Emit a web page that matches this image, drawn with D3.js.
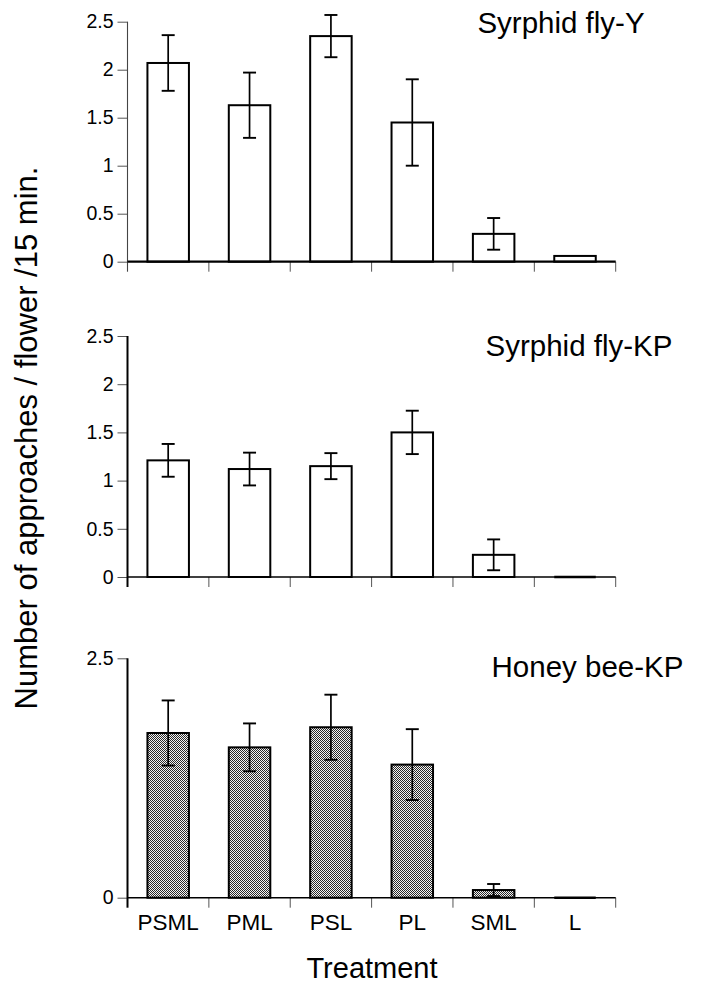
<!DOCTYPE html>
<html>
<head>
<meta charset="utf-8">
<script src="https://cdn.jsdelivr.net/npm/d3@7"></script>
<style>
  html, body { margin: 0; padding: 0; background: #fff; }
  svg { display: block; }
  svg text { font-family: "Liberation Sans", Arial, Helvetica, sans-serif; }
</style>
</head>
<body>
<svg id="chart" width="702" height="985"></svg>
<script>
// ---- data ----
const categories = ["PSML", "PML", "PSL", "PL", "SML", "L"];
const panelTitles = ["Syrphid fly-Y", "Syrphid fly-KP", "Honey bee-KP"];
const syrphidYMeans  = [2.07, 1.63, 2.35, 1.45, 0.29, 0.06];
const syrphidYErr    = [0.29, 0.34, 0.22, 0.45, 0.165, null];
const syrphidKPMeans = [1.21, 1.12, 1.15, 1.50, 0.23, 0];
const syrphidKPErr   = [0.17, 0.17, 0.135, 0.225, 0.16, null];
const honeyBeeMeans  = [1.72, 1.57, 1.78, 1.39, 0.08, 0];
const honeyBeeErr    = [0.34, 0.25, 0.34, 0.37, 0.063, null];
const fullTicks  = [0, 0.5, 1, 1.5, 2, 2.5];
const fullTickLabels = ["0", "0.5", "1", "1.5", "2", "2.5"];
const sparseTicks = [0, 2.5];
const sparseTickLabels = ["0", "2.5"];
const yLabel = "Number of approaches / flower /15 min.";
const xLabel = "Treatment";

// ---- layout ----
const FONT = "'Liberation Sans', Arial, Helvetica, sans-serif";
const svg = d3.select("#chart");
const defs = svg.append("defs");
const pat = defs.append("pattern").attr("id", "stipple")
  .attr("patternUnits", "userSpaceOnUse").attr("width", 2).attr("height", 2);
pat.append("rect").attr("width", 2).attr("height", 2).attr("fill", "#f4f4f4");
pat.append("rect").attr("x", 0).attr("y", 0).attr("width", 1).attr("height", 1).attr("fill", "#2a2a2a");
pat.append("rect").attr("x", 1).attr("y", 1).attr("width", 1).attr("height", 1).attr("fill", "#2a2a2a");

const xLeft = 127.5, xRight = 615.7;
const x = d3.scaleBand().domain(categories).range([xLeft, xRight])
  .paddingInner(0.49).paddingOuter(0.245);

const panels = [
  { title: panelTitles[0], means: syrphidYMeans, err: syrphidYErr, top: 21.7, bottom: 261.7,
    ticks: fullTicks, labels: fullTickLabels, fill: "#fff", yAxisW: 1.1, yAxisC: "#444", xAxisW: 2.2,
    titleX: 561, titleY: 32.5, showCats: false },
  { title: panelTitles[1], means: syrphidKPMeans, err: syrphidKPErr, top: 336, bottom: 577,
    ticks: fullTicks, labels: fullTickLabels, fill: "#fff", yAxisW: 2, yAxisC: "#000", xAxisW: 1.4,
    titleX: 579, titleY: 355.7, showCats: false },
  { title: panelTitles[2], means: honeyBeeMeans, err: honeyBeeErr, top: 658.3, bottom: 897.7,
    ticks: sparseTicks, labels: sparseTickLabels, fill: "url(#stipple)", yAxisW: 2, yAxisC: "#000", xAxisW: 1.4,
    titleX: 587.5, titleY: 676.7, showCats: true }
];

panels.forEach(p => {
  const y = d3.scaleLinear().domain([0, 2.5]).range([p.bottom, p.top]);
  const g = svg.append("g");

  // y axis ticks + labels
  const yAxis = d3.axisLeft(y).tickValues(p.ticks)
    .tickFormat((d, i) => p.labels[i]).tickSize(10).tickPadding(4);
  const ya = g.append("g").attr("transform", `translate(${xLeft},0)`).call(yAxis)
    .attr("font-family", FONT).attr("font-size", 19.5);
  ya.select(".domain").remove();
  ya.selectAll(".tick line").attr("stroke", "#555").attr("stroke-width", 1);
  ya.selectAll(".tick text").attr("fill", "#000");
  g.append("line").attr("x1", xLeft).attr("x2", xLeft)
    .attr("y1", y(2.5)).attr("y2", p.bottom + 10)
    .attr("stroke", p.yAxisC).attr("stroke-width", p.yAxisW);

  // x category boundary ticks
  const bounds = d3.range(categories.length + 1).map(i => xLeft + i * x.step());
  g.selectAll(".xt").data(bounds.slice(1)).join("line")
    .attr("x1", d => d).attr("x2", d => d)
    .attr("y1", p.bottom).attr("y2", p.bottom + 10)
    .attr("stroke", "#555").attr("stroke-width", 1);

  // bars
  g.selectAll(".bar").data(categories).join("rect")
    .attr("x", c => x(c))
    .attr("y", (c, i) => y(p.means[i]))
    .attr("width", x.bandwidth())
    .attr("height", (c, i) => p.bottom - y(p.means[i]))
    .attr("fill", p.fill).attr("stroke", "#000").attr("stroke-width", 2);

  // x axis line
  g.append("line").attr("x1", xLeft).attr("x2", xRight)
    .attr("y1", p.bottom).attr("y2", p.bottom)
    .attr("stroke", "#000").attr("stroke-width", p.xAxisW);

  // zero-height bars drawn as a heavier baseline segment
  g.selectAll(".zero").data(categories.filter((c, i) => p.means[i] === 0)).join("line")
    .attr("x1", c => x(c)).attr("x2", c => x(c) + x.bandwidth())
    .attr("y1", p.bottom).attr("y2", p.bottom)
    .attr("stroke", "#000").attr("stroke-width", 2.4);

  // error bars
  const eb = categories.map((c, i) => ({ c, m: p.means[i], e: p.err[i] })).filter(d => d.e != null);
  const cx = d => x(d.c) + x.bandwidth() / 2;
  g.selectAll(".ev").data(eb).join("line")
    .attr("x1", cx).attr("x2", cx)
    .attr("y1", d => y(d.m + d.e)).attr("y2", d => y(Math.max(0, d.m - d.e)))
    .attr("stroke", "#000").attr("stroke-width", 1.7);
  ["+", "-"].forEach(s => {
    g.selectAll(".cap" + (s === "+" ? "u" : "l")).data(eb).join("line")
      .attr("x1", d => cx(d) - 6.5).attr("x2", d => cx(d) + 6.5)
      .attr("y1", d => y(s === "+" ? d.m + d.e : Math.max(0, d.m - d.e)))
      .attr("y2", d => y(s === "+" ? d.m + d.e : Math.max(0, d.m - d.e)))
      .attr("stroke", "#000").attr("stroke-width", 1.9);
  });

  // panel title
  g.append("text").attr("x", p.titleX).attr("y", p.titleY)
    .attr("text-anchor", "middle").attr("font-family", FONT)
    .attr("font-size", 29.5).attr("fill", "#000")
    .text(p.title);

  // category labels
  if (p.showCats) {
    g.selectAll(".cat").data(categories).join("text")
      .attr("x", c => x(c) + x.bandwidth() / 2)
      .attr("y", 929.5)
      .attr("text-anchor", "middle").attr("font-family", FONT)
      .attr("font-size", 22.5).attr("fill", "#000")
      .text(c => c);
  }
});

// axis titles
svg.append("text").attr("transform", "translate(37,438) rotate(-90)")
  .attr("text-anchor", "middle").attr("font-family", FONT)
  .attr("font-size", 31).attr("fill", "#000")
  .text(yLabel);
svg.append("text").attr("x", 372).attr("y", 978)
  .attr("text-anchor", "middle").attr("font-family", FONT)
  .attr("font-size", 29).attr("fill", "#000")
  .text(xLabel);
</script>
</body>
</html>
